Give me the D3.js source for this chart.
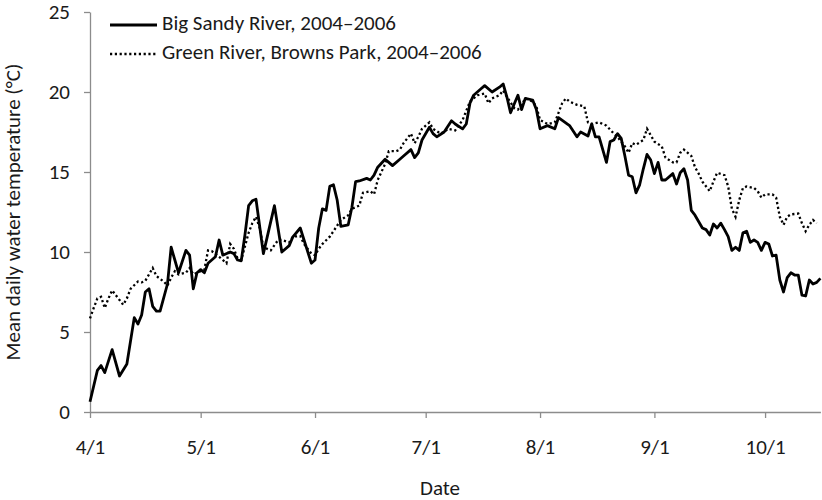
<!DOCTYPE html>
<html>
<head>
<meta charset="utf-8">
<script src="https://cdn.jsdelivr.net/npm/d3@7"></script>
<style>
  body { margin: 0; background: #fff; }
  svg text { font-family: Carlito, Calibri, Lato, "Open Sans", sans-serif; fill: #1a1a1a; }
</style>
</head>
<body>
<div id="chart"></div>
<script>
// days after 1 April and mean daily water temperature (°C)
const bigSandyDay = [0,2,3,4,6,8,10,12,13,14,15,16,17,18,19,21,22,23,24,26,27,28,29,30,31,32,33,34,35,36,38,39,40,41,42,43,44,45,47,50,52,54,55,57,60,61,62,63,64,65,66,67,68,70,71,72,73,75,76,77,78,80,81,82,84,85,87,88,89,90,92,93,94,96,98,99,101,102,103,104,106,107,109,111,112,113,114,116,117,118,120,121,122,124,126,127,130,132,133,135,136,137,138,140,141,142,143,144,145,146,147,148,149,150,151,152,153,154,155,156,158,159,160,161,162,163,164,166,167,168,169,170,171,172,173,174,175,176,177,178,179,180,181,182,183,184,185,186,187,188,189,190,191,192,193,194,195,196,197,198];
const bigSandyTemp = [0.64,2.6,2.9,2.46,3.9,2.25,3.0,5.9,5.5,6.06,7.5,7.7,6.6,6.3,6.3,8.0,10.3,9.5,8.7,10.1,9.8,7.7,8.7,8.9,8.7,9.3,9.5,9.7,10.75,9.8,10.0,9.9,9.5,9.45,11.06,12.9,13.2,13.3,9.9,12.9,10.0,10.4,10.95,11.5,9.3,9.5,11.5,12.7,12.6,14.1,14.2,13.25,11.6,11.7,12.8,14.4,14.44,14.6,14.5,14.8,15.3,15.8,15.6,15.4,15.8,16.0,16.4,15.9,16.2,17.0,17.8,17.4,17.2,17.5,18.2,18.0,17.7,18.0,19.3,19.8,20.2,20.4,20.0,20.3,20.5,19.7,18.7,19.8,18.9,19.6,19.5,18.9,17.7,17.9,17.7,18.4,17.9,17.2,17.5,17.25,18.0,17.2,17.2,15.6,16.9,17.0,17.4,17.1,16.0,14.8,14.7,13.7,14.2,15.2,16.1,15.75,14.9,15.6,14.5,14.5,14.9,14.25,14.95,15.2,14.5,12.6,12.3,11.5,11.4,11.06,11.75,11.5,11.8,11.4,10.96,10.1,10.3,10.1,11.2,11.3,10.6,10.75,10.6,10.1,10.6,10.5,9.75,9.8,8.25,7.5,8.4,8.7,8.56,8.56,7.3,7.25,8.25,8.0,8.1,8.35];

const greenDay = [0,1,2,3,4,5,6,8,9,10,11,13,14,15,16,17,18,20,21,22,23,24,26,27,28,29,31,32,33,35,37,38,39,40,41,43,44,45,46,47,49,51,52,54,55,57,58,60,61,62,63,65,66,68,70,71,73,74,76,77,78,80,81,83,84,85,87,88,89,90,92,93,95,96,97,99,101,103,105,107,108,109,111,112,113,115,116,117,118,120,121,122,124,126,127,128,129,130,132,134,135,136,138,140,142,143,145,146,147,148,150,151,152,153,155,156,158,159,160,161,163,164,165,166,168,169,170,172,173,174,175,176,177,178,180,181,182,183,185,186,187,188,189,190,192,193,194,195,196,197];
const greenTemp = [5.85,6.5,7.1,7.2,6.5,7.1,7.6,7.0,6.7,7.1,7.7,8.15,8.1,8.2,8.6,9.0,8.5,8.15,7.9,8.4,8.8,8.6,8.7,9.0,8.6,8.7,8.9,10.1,10.06,9.7,9.3,10.5,10.2,9.6,9.5,11.2,11.8,12.2,11.5,10.3,10.1,10.75,10.75,10.6,10.96,11.0,10.5,9.9,9.8,10.2,10.5,10.96,11.3,12.0,12.3,12.7,12.9,13.7,13.8,13.6,14.5,15.5,16.3,16.3,16.4,16.8,17.4,16.8,17.2,17.7,18.1,17.7,17.4,17.5,17.7,17.6,18.25,19.4,19.8,19.9,19.3,19.6,19.8,20.1,19.7,19.0,18.9,19.2,19.6,19.4,19.1,18.25,18.0,18.1,18.7,19.3,19.6,19.4,19.2,19.1,18.1,18.0,18.1,17.9,17.4,17.2,16.6,16.2,16.8,16.7,17.0,17.7,17.3,16.9,16.6,15.9,15.6,15.6,16.2,16.4,16.0,15.3,14.9,14.4,13.8,14.4,14.95,14.8,14.1,12.7,12.2,13.25,14.0,14.1,14.0,13.8,13.4,13.6,13.6,13.4,12.2,11.7,12.2,12.35,12.4,11.8,11.3,11.7,12.0,11.8];

const yTicks = [0, 5, 10, 15, 20, 25];
const seriesNames = ["Big Sandy River, 2004\u20132006", "Green River, Browns Park, 2004\u20132006"];

const width = 822, height = 500;
const margin = {top: 12, right: 1.6, bottom: 88, left: 90};
const fontSize = "21px";

const start = new Date(1900, 3, 1);
const end = new Date(1900, 9, 16);
const toDate = d => d3.timeDay.offset(start, d);

const svg = d3.select("#chart").append("svg")
    .attr("width", width)
    .attr("height", height);

const x = d3.scaleTime()
    .domain([start, end])
    .range([margin.left, width - margin.right]);

const y = d3.scaleLinear()
    .domain([0, 25])
    .range([height - margin.bottom, margin.top]);

// x axis
const xAxis = svg.append("g")
    .attr("transform", `translate(0,${height - margin.bottom})`)
    .call(d3.axisBottom(x)
        .ticks(d3.timeMonth.every(1))
        .tickFormat(d3.timeFormat("%-m/%-d"))
        .tickSize(6)
        .tickPadding(21)
        .tickSizeOuter(0));
xAxis.selectAll("path, line").attr("stroke", "#8c8c8c").attr("stroke-width", 1.3);
xAxis.selectAll("text").style("font-size", fontSize).attr("fill", "#1a1a1a");

// y axis
const yAxis = svg.append("g")
    .attr("transform", `translate(${margin.left},0)`)
    .call(d3.axisLeft(y)
        .tickValues(yTicks)
        .tickSize(6)
        .tickPadding(14)
        .tickSizeOuter(0));
yAxis.selectAll("path, line").attr("stroke", "#8c8c8c").attr("stroke-width", 1.3);
yAxis.selectAll("text").style("font-size", fontSize).attr("fill", "#1a1a1a");

// axis titles
svg.append("text")
    .attr("x", 440)
    .attr("y", 490)
    .attr("text-anchor", "middle")
    .attr("dominant-baseline", "middle")
    .style("font-size", fontSize)
    .text("Date");

svg.append("text")
    .attr("transform", `translate(15,${(margin.top + height - margin.bottom) / 2}) rotate(-90)`)
    .attr("text-anchor", "middle")
    .attr("dominant-baseline", "middle")
    .style("font-size", fontSize)
    .text("Mean daily water temperature (\u00B0C)");

const line = d3.line()
    .x(d => x(toDate(d[0])))
    .y(d => y(d[1]));

const green = greenDay.map((d, i) => [d, greenTemp[i]]);
const bigSandy = bigSandyDay.map((d, i) => [d, bigSandyTemp[i]]);

svg.append("path")
    .datum(green)
    .attr("fill", "none")
    .attr("stroke", "#000")
    .attr("stroke-width", 2.3)
    .attr("stroke-dasharray", "2.2,2.6")
    .attr("d", line);

svg.append("path")
    .datum(bigSandy)
    .attr("fill", "none")
    .attr("stroke", "#000")
    .attr("stroke-width", 2.8)
    .attr("stroke-linejoin", "round")
    .attr("d", line);

// legend
const legend = svg.append("g");
const legendRows = [
    {name: seriesNames[0], dash: null, w: 2.8, yPos: 25},
    {name: seriesNames[1], dash: "2.2,2.6", w: 2.3, yPos: 54}
];
legendRows.forEach(r => {
    legend.append("line")
        .attr("x1", 110).attr("x2", 157)
        .attr("y1", r.yPos).attr("y2", r.yPos)
        .attr("stroke", "#000")
        .attr("stroke-width", r.w)
        .attr("stroke-dasharray", r.dash);
    legend.append("text")
        .attr("x", 162)
        .attr("y", r.yPos)
        .attr("dominant-baseline", "middle")
        .style("font-size", fontSize)
        .text(r.name);
});
</script>
</body>
</html>
